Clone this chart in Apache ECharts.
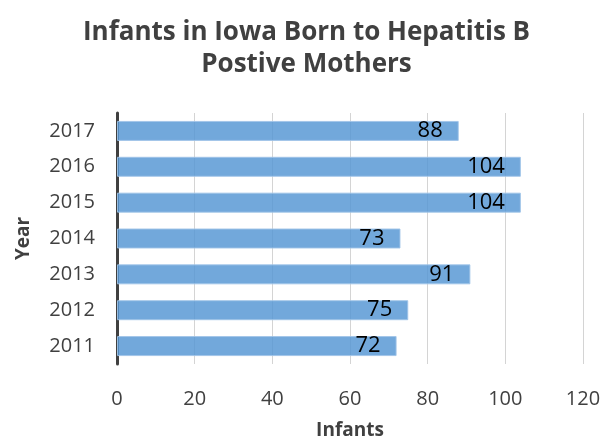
<!DOCTYPE html>
<html>
<head>
<meta charset="utf-8">
<script src="https://cdn.jsdelivr.net/npm/echarts@6/dist/echarts.min.js"></script>
<style>
  html, body { margin: 0; padding: 0; background: #fff; }
  #chart { width: 613px; height: 440px; }
</style>
</head>
<body>
<div id="chart"></div>
<script>
// data
var years = ['2011', '2012', '2013', '2014', '2015', '2016', '2017']
var infants = [72, 75, 91, 73, 104, 104, 88]
var xTicks = [0, 20, 40, 60, 80, 100, 120]

var font = '"Open Sans", sans-serif'
var textColor = '#404040'
var myChart = echarts.init(document.getElementById('chart'))
var option = {
  animation: false,
  title: {
    text: 'Infants in Iowa Born to Hepatitis B\nPostive Mothers',
    left: 'center',
    top: 12,
    textStyle: {
      fontFamily: font,
      fontSize: 26,
      fontWeight: 'bold',
      color: textColor,
      lineHeight: 32
    }
  },
  grid: {
    left: 117,
    right: 30,
    top: 113,
    bottom: 76,
    outerBoundsMode: 'none'
  },
  xAxis: {
    type: 'value',
    min: xTicks[0],
    max: xTicks[xTicks.length - 1],
    interval: 20,
    name: 'Infants',
    nameLocation: 'middle',
    nameGap: 57,
    nameTextStyle: { fontFamily: font, fontSize: 19, fontWeight: 'bold', color: textColor },
    axisLine: { show: false },
    axisTick: { show: false },
    axisLabel: { fontFamily: font, fontSize: 20, color: textColor, margin: 25 },
    splitLine: { show: true, lineStyle: { color: '#d4d4d4', width: 1 } }
  },
  yAxis: {
    type: 'category',
    data: years,
    name: 'Year',
    nameLocation: 'middle',
    nameGap: 84,
    nameRotate: 90,
    nameTextStyle: { fontFamily: font, fontSize: 19, fontWeight: 'bold', color: textColor },
    axisLine: { show: true, lineStyle: { color: '#404040', width: 3 } },
    axisTick: { show: false },
    axisLabel: { fontFamily: font, fontSize: 20, color: textColor, margin: 22 }
  },
  series: [{
    type: 'bar',
    data: infants,
    barWidth: 20,
    itemStyle: {
      color: 'rgba(86,150,212,0.83)',
      borderColor: 'rgba(160,196,232,0.9)',
      borderWidth: 1
    },
    label: {
      show: true,
      position: 'insideRight',
      distance: 16,
      fontFamily: font,
      fontSize: 22,
      color: '#000'
    }
  }]
}
myChart.setOption(option)
</script>
</body>
</html>
